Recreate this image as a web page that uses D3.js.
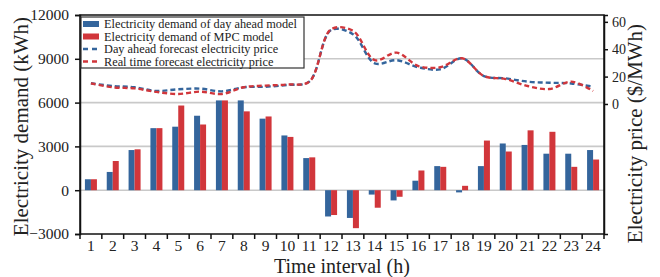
<!DOCTYPE html>
<html>
<head>
<meta charset="utf-8">
<script src="https://cdn.jsdelivr.net/npm/d3@7"></script>
<style>
  body { margin: 0; background: #fff; }
  text { font-family: "Liberation Serif", "Times New Roman", serif; fill: #222; }
</style>
</head>
<body>
<script>
// data
var hours = ["1","2","3","4","5","6","7","8","9","10","11","12","13","14","15","16","17","18","19","20","21","22","23","24"];
var demandDayAhead = [750, 1250, 2750, 4250, 4350, 5100, 6150, 6150, 4900, 3750, 2200, -1800, -1900, -300, -700, 650, 1650, -150, 1650, 3200, 3100, 2500, 2500, 2750];
var demandMPC = [750, 2000, 2800, 4250, 5800, 4500, 6150, 5400, 5050, 3650, 2250, -1700, -2600, -1200, -450, 1350, 1600, 300, 3400, 2650, 4100, 4000, 1600, 2100];
var priceDayAhead = [15.1, 13.1, 12.2, 9.5, 10.7, 11.2, 9.2, 12.2, 12.6, 13.9, 16.3, 54, 51, 29.7, 32, 26.8, 25.3, 33.4, 20.4, 18.7, 16.3, 15.5, 15, 12.6];
var priceRealTime = [15.1, 12.2, 11.4, 8.8, 7.3, 9.0, 7.3, 12.2, 13.4, 14.2, 16.3, 54.5, 53.5, 32, 37.5, 27.7, 26.8, 33.4, 20.4, 18.2, 13.1, 10.9, 16.3, 9.5];
var leftTicks = [-3000, 0, 3000, 6000, 9000, 12000];
var rightTicks = [0, 20, 40, 60];
var legendLabels = ["Electricity demand of day ahead model", "Electricity demand of MPC model",
                    "Day ahead forecast electricity price", "Real time forecast electricity price"];

var blue = "#34659c";
var red = "#d1363b";

// dimensions
var width = 660;
var height = 277;
var margin = { top: 15, right: 56, bottom: 43, left: 80 };
var w = width - margin.left - margin.right;
var h = height - margin.top - margin.bottom;

var svg = d3.select("body")
    .append("svg")
    .attr("width", width)
    .attr("height", height);

var g = svg.append("g")
    .attr("transform", "translate(" + margin.left + "," + margin.top + ")");

// scales
var x = d3.scaleBand()
    .domain(hours)
    .range([0, w])
    .paddingInner(0.45)
    .paddingOuter(0.225);
var xSub = d3.scaleBand()
    .domain(["dayAhead", "mpc"])
    .range([0, x.bandwidth()]);
var yLeft = d3.scaleLinear()
    .domain([-3000, 12000])
    .range([h, 0]);
var yRight = d3.scaleLinear()
    .domain([-95, 65])
    .range([h, 0]);

// gridlines
g.selectAll(".grid")
    .data([0, 3000, 6000, 9000])
    .enter()
    .append("line")
    .attr("x1", 0)
    .attr("x2", w)
    .attr("y1", function(d) { return yLeft(d); })
    .attr("y2", function(d) { return yLeft(d); })
    .attr("stroke", "#c9c9c9")
    .attr("stroke-width", 1.6);

// bars
var series = [
    { key: "dayAhead", values: demandDayAhead, color: blue },
    { key: "mpc", values: demandMPC, color: red }
];
series.forEach(function(s) {
    g.selectAll(".bar-" + s.key)
        .data(s.values)
        .enter()
        .append("rect")
        .attr("x", function(d, i) { return x(hours[i]) + xSub(s.key); })
        .attr("width", xSub.bandwidth())
        .attr("y", function(d) { return yLeft(Math.max(0, d)); })
        .attr("height", function(d) { return Math.abs(yLeft(d) - yLeft(0)); })
        .attr("fill", s.color);
});

// price lines
var line = d3.line()
    .x(function(d, i) { return x(hours[i]) + x.bandwidth() / 2; })
    .y(function(d) { return yRight(d); })
    .curve(d3.curveCatmullRom.alpha(0.5));

[{ values: priceDayAhead, color: blue }, { values: priceRealTime, color: red }].forEach(function(s) {
    g.append("path")
        .datum(s.values)
        .attr("d", line)
        .attr("fill", "none")
        .attr("stroke", s.color)
        .attr("stroke-width", 2.4)
        .attr("stroke-dasharray", "5,3");
});

// frame
g.append("rect")
    .attr("width", w)
    .attr("height", h)
    .attr("fill", "none")
    .attr("stroke", "#111")
    .attr("stroke-width", 1.5);

// x axis: ticks sit on the band edges
var xAxis = g.append("g")
    .attr("transform", "translate(0," + h + ")");
xAxis.selectAll(".xtick")
    .data(d3.range(hours.length + 1))
    .enter()
    .append("line")
    .attr("x1", function(i) { return x.step() * i; })
    .attr("x2", function(i) { return x.step() * i; })
    .attr("y1", 0)
    .attr("y2", 5)
    .attr("stroke", "#111")
    .attr("stroke-width", 1.5);
xAxis.selectAll(".xlabel")
    .data(hours)
    .enter()
    .append("text")
    .attr("x", function(d) { return x(d) + x.bandwidth() / 2; })
    .attr("y", 17)
    .attr("text-anchor", "middle")
    .style("font-size", "15.5px")
    .text(function(d) { return d; });

// left axis
var leftAxis = g.append("g")
    .call(d3.axisLeft(yLeft).tickValues(leftTicks).tickSize(5).tickPadding(6).tickFormat(d3.format("d")));
leftAxis.select(".domain").attr("stroke", "#111").attr("stroke-width", 1.5);
leftAxis.selectAll(".tick line").attr("stroke", "#111").attr("stroke-width", 1.5);
leftAxis.selectAll(".tick text")
    .style("font-family", "Liberation Serif, serif")
    .style("font-size", "15.5px")
    .attr("fill", "#222");

// right axis
var rightAxis = g.append("g")
    .attr("transform", "translate(" + w + ",0)")
    .call(d3.axisRight(yRight).tickValues(rightTicks).tickSize(4).tickPadding(4));
rightAxis.select(".domain").attr("stroke", "#111").attr("stroke-width", 1.5);
rightAxis.selectAll(".tick line").attr("stroke", "#111").attr("stroke-width", 1.5);
rightAxis.selectAll(".tick text")
    .style("font-family", "Liberation Serif, serif")
    .style("font-size", "14px")
    .attr("fill", "#222");

// axis titles
svg.append("text")
    .attr("x", margin.left + w / 2)
    .attr("y", 273)
    .attr("text-anchor", "middle")
    .style("font-size", "20px")
    .text("Time interval (h)");
svg.append("text")
    .attr("transform", "translate(28," + (margin.top + h / 2 + 2) + ") rotate(-90)")
    .attr("text-anchor", "middle")
    .style("font-size", "21px")
    .text("Electricity demand (kWh)");
svg.append("text")
    .attr("transform", "translate(642," + (margin.top + h / 2 + 9) + ") rotate(-90)")
    .attr("text-anchor", "middle")
    .style("font-size", "21px")
    .text("Electricity price ($/MWh)");

// legend
var legend = svg.append("g")
    .attr("transform", "translate(81,17)");
legend.append("rect")
    .attr("width", 223)
    .attr("height", 51)
    .attr("fill", "#fff")
    .attr("stroke", "#333")
    .attr("stroke-width", 1.2);
var rowY = [7, 19.5, 32, 44.5];
var legendColors = [blue, red, blue, red];
legendLabels.forEach(function(label, i) {
    if (i < 2) {
        legend.append("rect")
            .attr("x", 2)
            .attr("y", rowY[i] - 3)
            .attr("width", 16)
            .attr("height", 6)
            .attr("fill", legendColors[i]);
    } else {
        legend.append("line")
            .attr("x1", 2)
            .attr("x2", 18)
            .attr("y1", rowY[i])
            .attr("y2", rowY[i])
            .attr("stroke", legendColors[i])
            .attr("stroke-width", 2.4)
            .attr("stroke-dasharray", "5,4");
    }
    legend.append("text")
        .attr("x", 23)
        .attr("y", rowY[i])
        .attr("dy", "0.33em")
        .style("font-size", "12.3px")
        .text(label);
});
</script>
</body>
</html>
